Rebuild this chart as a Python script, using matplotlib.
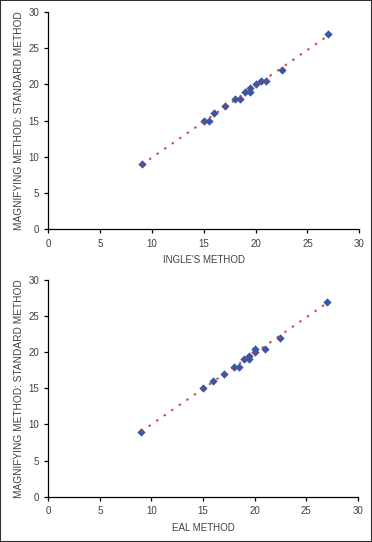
import numpy as np
import matplotlib.pyplot as plt
from matplotlib.patches import Rectangle

plt.rcParams['font.family'] = ['Liberation Sans', 'DejaVu Sans']

# top panel: Ingle's method vs magnifying method
ingle_x = [9, 15, 15.5, 16, 17, 18, 18.5, 19, 19.5, 19.5, 20, 20.5, 21, 22.5, 27]
ingle_y = [9, 15, 15, 16, 17, 18, 18, 19, 19, 19.5, 20, 20.5, 20.5, 22, 27]

# bottom panel: EAL method vs magnifying method
eal_x = [9, 15, 16, 17, 18, 18.5, 19, 19.5, 19.5, 20, 20, 21, 22.5, 27]
eal_y = [9, 15, 16, 17, 18, 18, 19, 19, 19.5, 20, 20.5, 20.5, 22, 27]

ticks = [0, 5, 10, 15, 20, 25, 30]
ylab = 'MAGNIFYING METHOD: STANDARD METHOD'
txt = '#404040'

fig = plt.figure(figsize=(3.72, 5.42), dpi=100)
fig.patches.append(Rectangle((0, 0), 1, 1, transform=fig.transFigure,
                             fill=False, edgecolor='#303030', linewidth=1.5))

panels = [
    ([0.1298, 0.5766, 0.836, 0.4013], ingle_x, ingle_y, "INGLE'S METHOD"),
    ([0.1298, 0.0836, 0.8317, 0.3998], eal_x, eal_y, 'EAL METHOD'),
]

for rect, xs, ys, xlab in panels:
    ax = fig.add_axes(rect)
    ax.scatter(xs, ys, marker='D', s=18, color='#3A57A5', zorder=2, linewidths=0)
    # linear trend line
    k, b = np.polyfit(xs, ys, 1)
    tx = np.array([min(xs), max(xs)])
    ax.plot(tx, k * tx + b, color='#C8323C', linewidth=1.5,
            linestyle=(0, (1.2, 3.2)), zorder=3, alpha=0.85)
    ax.set_xlim(0, 30)
    ax.set_ylim(0, 30)
    ax.set_xticks(ticks)
    ax.set_yticks(ticks)
    ax.spines['top'].set_visible(False)
    ax.spines['right'].set_visible(False)
    ax.spines['left'].set_linewidth(0.9)
    ax.spines['bottom'].set_linewidth(0.9)
    ax.tick_params(direction='out', length=3, width=0.9, labelsize=7,
                   labelcolor=txt, pad=3.5)
    ax.set_xlabel(xlab, fontsize=7, color=txt, labelpad=5)
    ax.set_ylabel(ylab, fontsize=7.3, color=txt, labelpad=3)

fig.savefig('out.png', dpi=100)
